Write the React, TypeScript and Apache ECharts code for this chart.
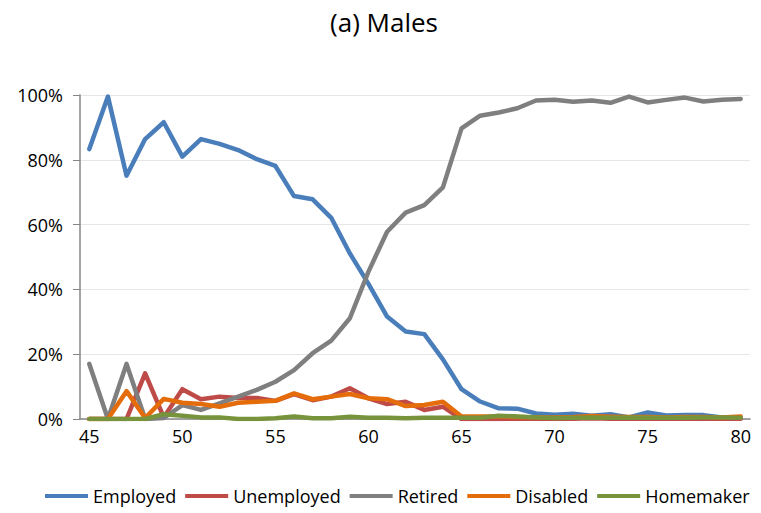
import React, { useEffect, useRef } from "react";
import * as echarts from "echarts";

// Ages 45..80
const ages: string[] = [];
for (let a = 45; a <= 80; a++) ages.push(String(a));

const employed = [
  83.3, 99.5, 75.1, 86.4, 91.6, 81.0, 86.4, 84.9, 83.0, 80.2, 78.1,
  68.8, 67.8, 62.1, 51.1, 41.7, 31.6, 27.0, 26.2, 18.4, 9.2,
  5.4, 3.3, 3.2, 1.7, 1.3, 1.6, 1.0, 1.5, 0.5, 2.0,
  1.1, 1.2, 1.2, 0.5, 0.3,
];
const unemployed = [
  0, 0, 0, 14.1, 0.5, 9.2, 6.1, 6.9, 6.5, 6.5, 5.6,
  7.7, 5.8, 6.9, 9.5, 6.4, 4.6, 5.3, 2.8, 3.8, 0,
  0, 0, 0.1, 0.1, 0.1, 0.1, 0.2, 0.1, 0.1, 0.1,
  0.1, 0.1, 0.1, 0.1, 0.1,
];
const retired = [
  17.0, 0, 17.0, 0, 0.3, 4.3, 2.8, 4.8, 6.9, 9.0, 11.5,
  15.1, 20.3, 24.2, 31.1, 45.5, 57.8, 63.7, 66.0, 71.5, 89.7,
  93.6, 94.6, 95.9, 98.3, 98.5, 97.9, 98.3, 97.6, 99.5, 97.7,
  98.5, 99.2, 98.0, 98.5, 98.8,
];
const disabled = [
  0, 0, 8.6, 0.3, 6.2, 5.0, 4.6, 3.8, 5.0, 5.3, 5.6,
  7.9, 6.1, 6.9, 7.7, 6.4, 6.1, 4.0, 4.3, 5.3, 0.8,
  0.8, 0.8, 0.6, 0.5, 0.5, 0.6, 0.9, 0.7, 0.6, 0.6,
  0.5, 0.6, 0.6, 0.5, 0.8,
];
const homemaker = [
  0, 0, 0, 0, 1.5, 1.0, 0.5, 0.5, 0, 0, 0.2,
  0.8, 0.2, 0.2, 0.7, 0.4, 0.4, 0.2, 0.4, 0.4, 0.4,
  0.4, 1.0, 0.8, 0.5, 0.3, 0.4, 0.5, 0.4, 0.5, 0.4,
  0.4, 0.4, 0.5, 0.5, 0.4,
];

const seriesNames = ["Employed", "Unemployed", "Retired", "Disabled", "Homemaker"];
const seriesColors = ["#4A7EBB", "#BE4B48", "#7F7F7F", "#E46C0A", "#77933C"];
const seriesData = [employed, unemployed, retired, disabled, homemaker];

const FONT = "'Open Sans', 'Liberation Sans', sans-serif";

export default function App() {
  const ref = useRef<HTMLDivElement>(null);

  useEffect(() => {
    if (!ref.current) return;
    const chart = echarts.init(ref.current, undefined, { renderer: "svg" });
    chart.setOption({
      animation: false,
      backgroundColor: "#ffffff",
      title: {
        text: "(a) Males",
        left: 384,
        textAlign: "center",
        top: 9,
        padding: 0,
        textStyle: { fontFamily: FONT, fontSize: 26, fontWeight: "normal", color: "#000" },
      },
      legend: {
        top: 487,
        left: 45,
        itemWidth: 43,
        itemHeight: 4,
        itemGap: 9,
        padding: 0,
        icon: "rect",
        textStyle: { fontFamily: FONT, fontSize: 18, color: "#000" },
        data: seriesNames,
      },
      grid: { left: 80, right: 11, top: 95, bottom: 94, containLabel: false },
      xAxis: {
        type: "category",
        data: ages,
        boundaryGap: true,
        axisLine: { lineStyle: { color: "#868686", width: 1.5 } },
        axisTick: { interval: 4, length: 6, lineStyle: { color: "#868686" } },
        axisLabel: { interval: 4, fontFamily: FONT, fontSize: 18, color: "#000", margin: 8 },
        splitLine: { show: false },
      },
      yAxis: {
        type: "value",
        min: 0,
        max: 100,
        interval: 20,
        axisLine: { show: true, lineStyle: { color: "#868686", width: 1.5 } },
        axisTick: { show: true, length: 7, lineStyle: { color: "#868686" } },
        axisLabel: { formatter: "{value}%", fontFamily: FONT, fontSize: 18, color: "#000", margin: 17 },
        splitLine: { lineStyle: { color: "#E6E6E6", width: 1 } },
      },
      series: seriesNames.map((name, i) => ({
        name,
        type: "line",
        data: seriesData[i],
        showSymbol: false,
        symbol: "none",
        lineStyle: { color: seriesColors[i], width: 4.5, cap: "round", join: "round" },
        itemStyle: { color: seriesColors[i] },
        z: 2 + i,
      })),
    });
    return () => chart.dispose();
  }, []);

  return (
    <div
      ref={ref}
      style={{ position: "absolute", left: 0, top: 0, width: 761, height: 513 }}
    />
  );
}
